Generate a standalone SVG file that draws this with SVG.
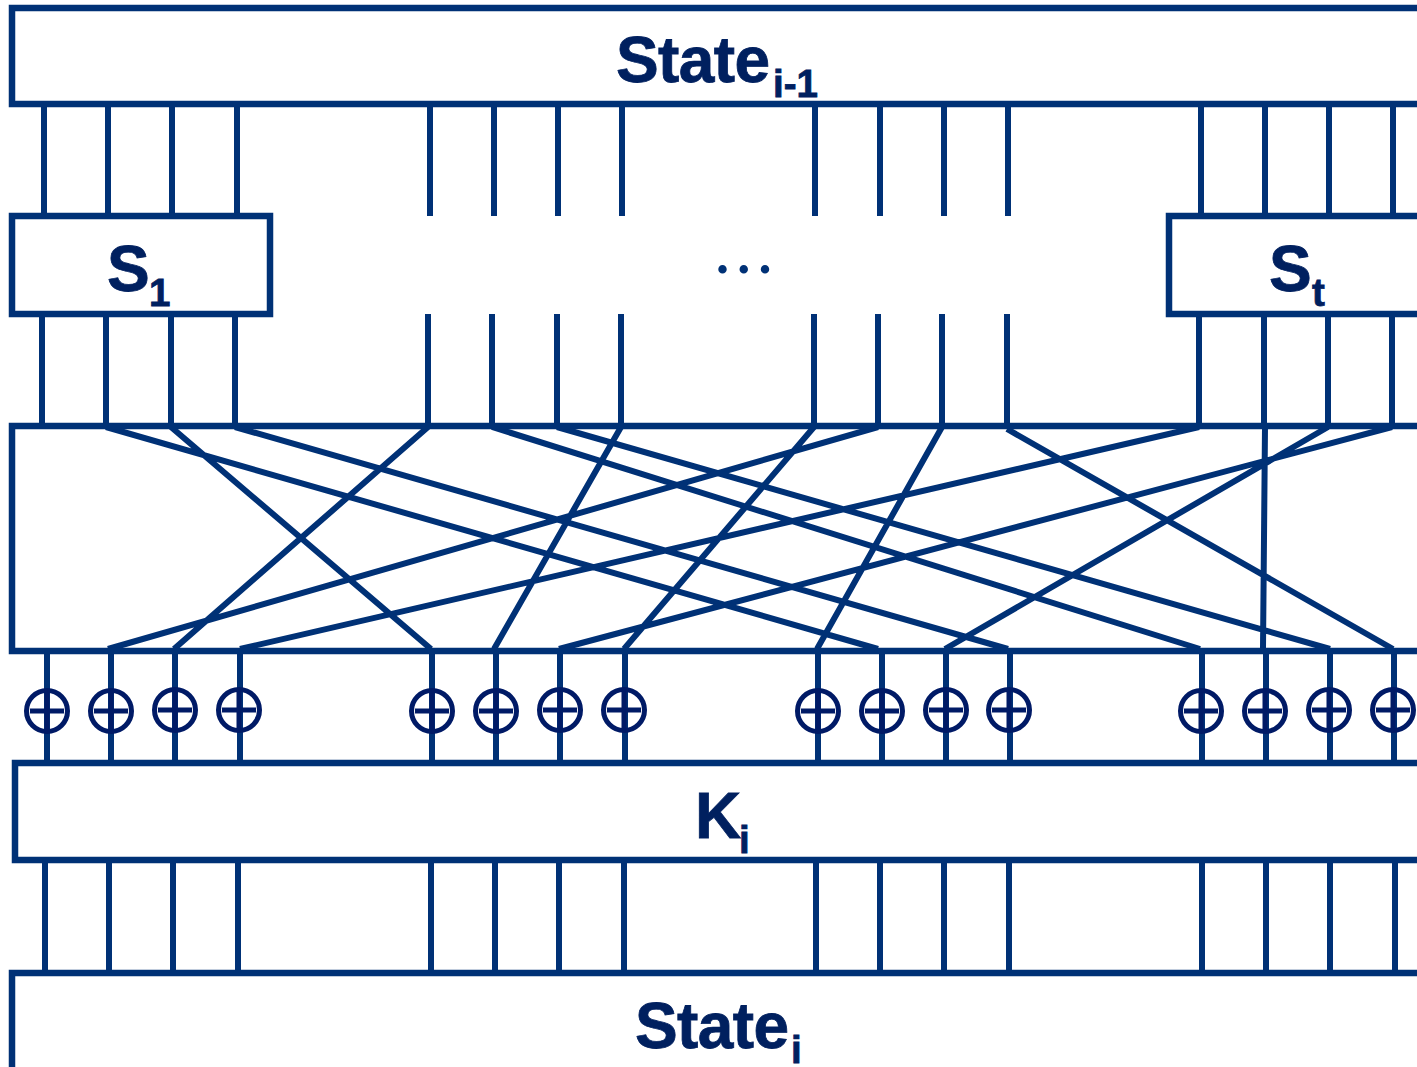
<svg xmlns="http://www.w3.org/2000/svg" width="1417" height="1067" viewBox="0 0 1417 1067">
<defs>
<g id="xor"><circle r="20.5" fill="none" stroke="#001a66" stroke-width="5"/><path d="M-17 0H17M0 -18V18" fill="none" stroke="#001a66" stroke-width="5"/></g>
</defs>
<style>
.b{fill:none;stroke:#003176;stroke-width:6.5}
.w{fill:none;stroke:#003176;stroke-width:6}
text{font-family:"Liberation Sans",Arial,sans-serif;font-weight:bold;fill:#00205f;stroke:#00205f;stroke-width:.8}
.m{font-size:64px;letter-spacing:-.6px}
.s{font-size:38.5px}
.d{font-family:"Liberation Serif",serif;font-size:52px;letter-spacing:8.3px;fill:#003176;stroke:none}
</style>
<rect width="1417" height="1067" fill="#fff"/>
<g id="connectors" class="w">
<path class="w" d="M44 104V216M108 104V216M172 104V216M237 104V216M430 104V216M494 104V216M558 104V216M622 104V216M815 104V216M880 104V216M944 104V216M1008 104V216M1201 104V216M1265 104V216M1329 104V216M1393 104V216"/>
<path class="w" d="M42 314V426M106 314V426M171 314V426M235 314V426M428 314V426M492 314V426M557 314V426M621 314V426M814 314V426M878 314V426M942 314V426M1007 314V426M1199 314V426M1264 314V426M1328 314V426M1392 314V426"/>
<path class="w" d="M106 427L878 649M171 427L431 649M235 427L1008 649M428 427L174 649M492 427L1200 649M557 427L1330 649M621 427L494 649M814 427L624 649M878 427L108 649M942 427L817 649M1007 429L1393 649M1199 427L240 649M1265 427L1263 649M1328 427L945 649M1392 427L559 649"/>
<path class="w" d="M47 651V763M111 651V763M175 651V763M240 651V763M432 651V763M496 651V763M560 651V763M625 651V763M818 651V763M882 651V763M946 651V763M1010 651V763M1202 651V763M1266 651V763M1330 651V763M1394 651V763"/>
<path class="w" d="M45 860V973M109 860V973M173 860V973M238 860V973M431 860V973M495 860V973M559 860V973M624 860V973M816 860V973M880 860V973M944 860V973M1009 860V973M1202 860V973M1266 860V973M1330 860V973M1395 860V973"/>
</g>
<g id="state-prev"><path class="b" d="M1417 8H12V104H1417"/><text class="m" x="616" y="82">State</text><text class="s" x="773" y="97">i-1</text></g>
<g id="s1"><rect class="b" x="12" y="216" width="258" height="98"/><text class="m" x="107" y="291">S</text><text class="s" x="149" y="306">1</text></g>
<g id="st"><path class="b" d="M1417 216H1169V314H1417"/><text class="m" x="1269" y="291">S</text><text class="s" x="1312" y="306">t</text></g>
<g id="dots"><text class="d" x="716" y="273">...</text></g>
<g id="permutation"><path class="b" d="M1417 426H12V651H1417"/></g>
<g id="xors">
<use href="#xor" x="47" y="711"/><use href="#xor" x="111" y="711"/><use href="#xor" x="175" y="710"/><use href="#xor" x="239" y="710"/>
<use href="#xor" x="432" y="711"/><use href="#xor" x="496" y="711"/><use href="#xor" x="560" y="710"/><use href="#xor" x="624" y="710"/>
<use href="#xor" x="818" y="711"/><use href="#xor" x="882" y="711"/><use href="#xor" x="946" y="710"/><use href="#xor" x="1009" y="710"/>
<use href="#xor" x="1201" y="711"/><use href="#xor" x="1265" y="711"/><use href="#xor" x="1329" y="710"/><use href="#xor" x="1393" y="710"/>
</g>
<g id="key"><path class="b" d="M1417 763H15V860H1417"/><text class="m" x="695" y="838">K</text><text class="s" x="739" y="853">i</text></g>
<g id="state"><path class="b" d="M1417 973H12V1067"/><text class="m" x="635" y="1048">State</text><text class="s" x="791" y="1063">i</text></g>
</svg>
